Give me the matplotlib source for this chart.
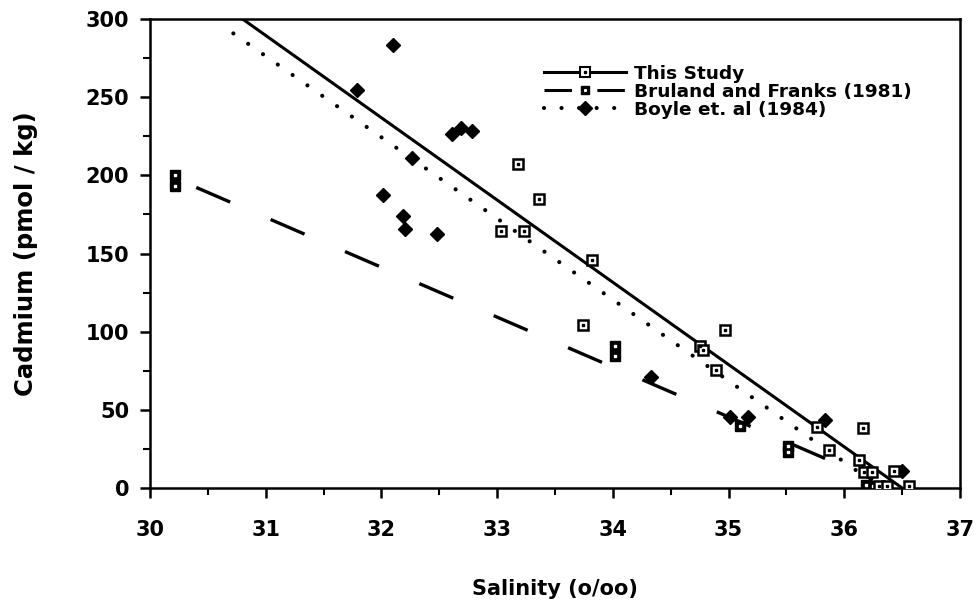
import numpy as np
import matplotlib
matplotlib.use('Agg')
import matplotlib.pyplot as plt
from matplotlib.legend_handler import HandlerTuple
from matplotlib.ticker import MultipleLocator

plt.rcParams['font.family'] = ['DejaVu Sans']
plt.rcParams['font.weight'] = 'bold'

# This Study
study_sal = [33.18, 33.36, 33.03, 33.23, 33.82, 33.74, 34.97, 34.75, 34.78, 34.89,
             35.76, 36.16, 35.87, 36.13, 36.17, 36.24, 36.43, 36.30, 36.37, 36.56]
study_cd = [207.5, 184.6, 164.3, 164.3, 145.7, 104.5, 101.3, 91.0, 88.0, 75.6,
            38.9, 38.5, 24.4, 18.0, 10.0, 10.5, 11.0, 1.0, 1.0, 1.0]
study_fit_sal = [30.80, 36.50]
study_fit_cd = [300.0, 0.0]

# Bruland and Franks (1981)
bruland_sal = [30.22, 30.22, 34.02, 34.02, 35.10, 35.51, 35.51, 36.19, 36.25]
bruland_cd = [200.0, 193.0, 90.6, 84.2, 39.7, 27.0, 23.0, 2.0, 1.0]
bruland_fit_sal = [30.22, 36.25]
bruland_fit_cd = [198.0, 5.6]

# Boyle et. al (1984)
boyle_sal = [32.10, 31.79, 32.61, 32.69, 32.78, 32.26, 32.01, 32.19, 32.20, 32.48,
             34.33, 35.01, 35.17, 35.83, 36.50]
boyle_cd = [283.5, 254.5, 226.7, 230.0, 228.2, 211.0, 187.2, 174.2, 165.4, 162.6,
            70.7, 45.3, 45.3, 43.6, 11.0]
boyle_fit_sal = [30.72, 36.32]
boyle_fit_cd = [290.8, 0.0]

fig = plt.figure(figsize=(9.78, 6.06), dpi=100)
ax = fig.add_axes([0.1534, 0.1947, 0.8282, 0.7739])

# fitted lines
ax.plot(study_fit_sal, study_fit_cd, color='black', lw=2.2)
dlw = 2.4
ax.plot(bruland_fit_sal, bruland_fit_cd, color='black', lw=dlw,
        linestyle=(42.0 / dlw, (26.6 / dlw, 31.7 / dlw)))
blw = 3.0
ax.plot(boyle_fit_sal, boyle_fit_cd, color='black', lw=blw,
        linestyle=(0, (0.01, 13.0 / blw)), dash_capstyle='round')

# markers
ax.plot(boyle_sal, boyle_cd, 'D', color='black', ms=7.5, zorder=3)
ax.plot(bruland_sal, bruland_cd, 's', mfc='black', mec='black', ms=7, zorder=4)
ax.plot(bruland_sal, bruland_cd, 's', mfc='white', mec='white', ms=1.5, zorder=5)
ax.plot(study_sal, study_cd, 's', mfc='white', mec='black', mew=1.8, ms=7.5, zorder=6)
ax.plot(study_sal, study_cd, 's', mfc='black', mec='black', ms=1.5, zorder=7)

# legend handles
h1 = ax.plot([], [], color='black', lw=2.2, marker='s', mfc='white', mec='black', mew=1.5, ms=7)[0]
h1d = ax.plot([], [], ls='none', marker='s', color='black', ms=1.5)[0]
h2 = ax.plot([], [], color='black', lw=2.2, ls=(0, (9.0, 8.3)), marker='s', mfc='black', ms=6)[0]
h2d = ax.plot([], [], ls='none', marker='s', color='white', ms=1.2)[0]
h3 = ax.plot([], [], color='black', lw=3, ls=(0, (0.01, 4.2)), dash_capstyle='round',
             marker='D', ms=7)[0]
ax.legend([(h1, h1d), (h2, h2d), (h3,)],
          ['This Study', 'Bruland and Franks (1981)', 'Boyle et. al (1984)'],
          handler_map={tuple: HandlerTuple(ndivide=1, pad=0)},
          loc='upper left', bbox_to_anchor=(0.471, 0.93), frameon=False,
          handlelength=4.4, handletextpad=0.45, labelspacing=0.0, numpoints=1,
          borderpad=0.2, prop={'family': 'DejaVu Sans', 'weight': 'bold', 'size': 13.3})

ax.set_xlim(30, 37)
ax.set_ylim(0, 300)
ax.xaxis.set_major_locator(MultipleLocator(1))
ax.xaxis.set_minor_locator(MultipleLocator(0.5))
ax.yaxis.set_major_locator(MultipleLocator(50))
ax.yaxis.set_minor_locator(MultipleLocator(25))
ax.tick_params(which='major', direction='out', length=7, width=1.8, labelsize=15)
ax.tick_params(axis='x', which='major', pad=16)
ax.tick_params(axis='y', which='major', pad=8)
ax.tick_params(which='minor', direction='out', length=5, width=1.5)
for s in ax.spines.values():
    s.set_linewidth(1.8)

ax.set_xlabel('Salinity (o/oo)', fontsize=15, fontweight='bold', labelpad=28)
ax.set_ylabel('Cadmium (pmol / kg)', fontsize=17.5, fontweight='bold', labelpad=34)

plt.savefig('out.png', dpi=100)
plt.close()
